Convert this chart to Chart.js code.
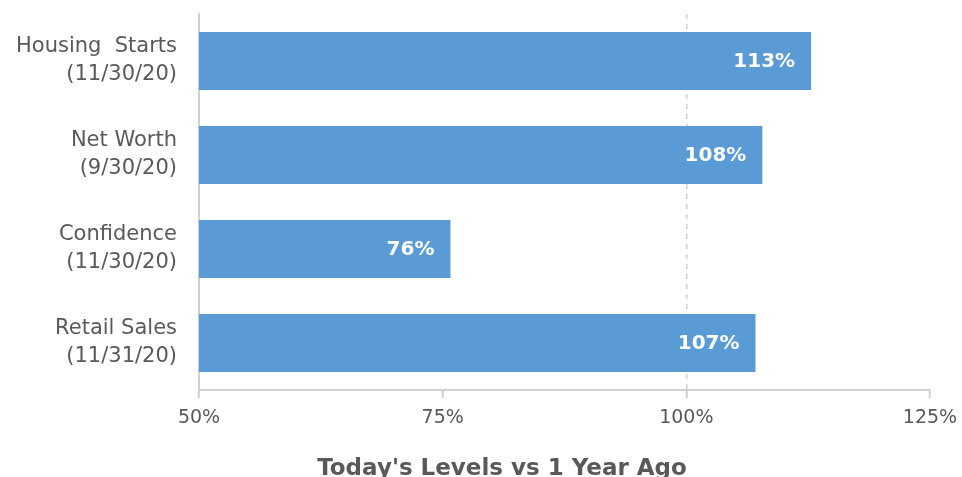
<!DOCTYPE html>
<html>
<head>
<meta charset="utf-8">
<script src="https://cdn.jsdelivr.net/npm/chart.js@4"></script>
<style>
  html, body { margin: 0; padding: 0; background: #fff; }
  #wrap { width: 962px; height: 477px; }
</style>
</head>
<body>
<div id="wrap"><canvas id="chart"></canvas></div>
<script>
const categories = [
    ['Housing  Starts', '(11/30/20)'],
    ['Net Worth', '(9/30/20)'],
    ['Confidence', '(11/30/20)'],
    ['Retail Sales', '(11/31/20)']
];
const levels = [112.8, 107.8, 75.8, 107.1];
const levelLabels = ['113%', '108%', '76%', '107%'];
const xTicks = [50, 75, 100, 125];
const chartTitle = "Today's Levels vs 1 Year Ago";

const FONT = "'DejaVu Sans', sans-serif";
const GREY = '#595959';

// white value labels inside the end of each bar
const barLabels = {
    id: 'barLabels',
    afterDatasetsDraw(chart) {
        const ctx = chart.ctx;
        const meta = chart.getDatasetMeta(0);
        ctx.save();
        ctx.fillStyle = '#fff';
        ctx.font = 'bold 20px ' + FONT;
        ctx.textAlign = 'right';
        ctx.textBaseline = 'middle';
        meta.data.forEach((bar, i) => {
            ctx.fillText(levelLabels[i], bar.x - 16, bar.y + 1);
        });
        ctx.restore();
    }
};

// title sits a bit right of the canvas centre, as in the original
const bottomTitle = {
    id: 'bottomTitle',
    afterDraw(chart) {
        const ctx = chart.ctx;
        ctx.save();
        ctx.fillStyle = GREY;
        ctx.font = 'bold 23px ' + FONT;
        ctx.textAlign = 'center';
        ctx.textBaseline = 'alphabetic';
        ctx.fillText(chartTitle, 502, 475);
        ctx.restore();
    }
};

new Chart(document.getElementById('chart'), {
    type: 'bar',
    data: {
        labels: categories,
        datasets: [{
            data: levels,
            backgroundColor: '#5B9BD5',
            borderWidth: 0,
            categoryPercentage: 1,
            barPercentage: 0.617
        }]
    },
    options: {
        indexAxis: 'y',
        responsive: true,
        maintainAspectRatio: false,
        animation: false,
        layout: { padding: { top: 14, right: 32, left: 0, bottom: 0 } },
        plugins: {
            legend: { display: false },
            tooltip: { enabled: false }
        },
        scales: {
            x: {
                min: 50,
                max: 125,
                afterBuildTicks: scale => {
                    scale.ticks = xTicks.map(v => ({ value: v }));
                },
                afterFit: scale => {
                    scale.height = 87;
                    scale.paddingLeft = 0;
                    scale.paddingRight = 0;
                },
                ticks: {
                    color: GREY,
                    font: { family: FONT, size: 19 },
                    padding: 9,
                    callback: v => v + '%'
                },
                grid: {
                    color: c => c.tick && c.tick.value === 100 ? '#d0d0d0' : 'rgba(0,0,0,0)',
                    lineWidth: 1.5,
                    tickColor: '#cfcfcf',
                    tickLength: 8,
                    tickWidth: 2
                },
                border: { color: '#d0d0d0', width: 2, dash: [5, 5] }
            },
            y: {
                afterFit: scale => {
                    scale.width = 199;
                    scale.paddingTop = 0;
                    scale.paddingBottom = 0;
                },
                ticks: {
                    color: GREY,
                    font: { family: FONT, size: 21, lineHeight: 1.33 },
                    padding: 22
                },
                grid: { display: false, drawTicks: false },
                border: { color: '#d0d0d0', width: 2 }
            }
        }
    },
    plugins: [barLabels, bottomTitle]
});
</script>
</body>
</html>
